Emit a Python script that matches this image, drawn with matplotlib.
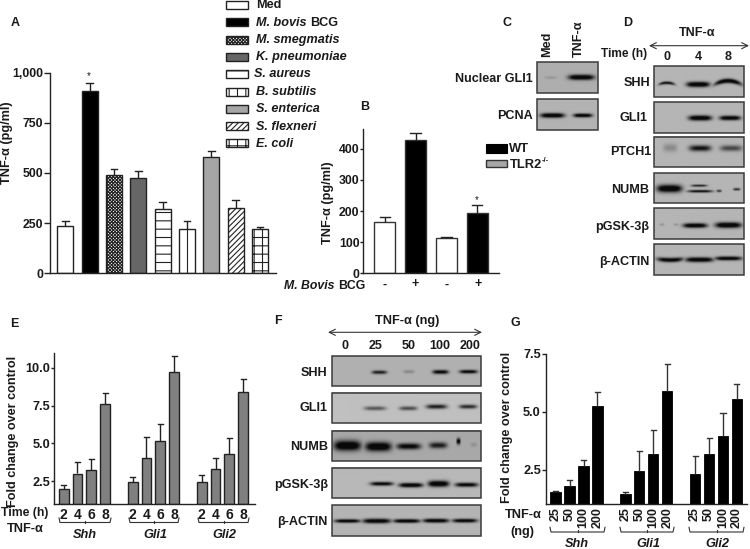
import numpy as np
import matplotlib
matplotlib.use("Agg")
import matplotlib.pyplot as plt
from matplotlib.patches import Rectangle

plt.rcParams['font.family'] = ['Liberation Sans', 'DejaVu Sans']
plt.rcParams['font.weight'] = 'bold'
plt.rcParams['hatch.linewidth'] = 0.8

W, H = 750, 549
TXT = '#1a1a1a'

# panel A
a_names = ['Med', 'M. bovis', 'M. smegmatis', 'K. pneumoniae', 'S. aureus',
           'B. subtilis', 'S. enterica', 'S. flexneri', 'E. coli']
a_vals = [237, 910, 488, 473, 320, 219, 580, 324, 219]
a_tops = [262, 947, 520, 508, 357, 259, 611, 364, 231]
a_colors = ['white', 'black', 'white', '#666666', 'white', 'white', '#a6a6a6', 'white', 'white']
a_hatch = [None, None, 'xxxxxxxxxx', None, '--', '||', None, '//////', '++']

# panel B
b_vals = [166, 427, 113, 195]
b_tops = [180, 452, 118, 218]
b_colors = ['white', 'black', 'white', 'black']
b_signs = ['-', '+', '-', '+']

# panel E
e_vals = [1.97, 3.0, 3.26, 7.57, 2.43, 4.05, 5.18, 9.75, 2.43, 3.33, 4.32, 8.41]
e_tops = [2.27, 3.79, 3.99, 8.34, 2.78, 5.42, 6.3, 10.76, 2.87, 4.03, 5.37, 9.24]
e_times = ['2', '4', '6', '8'] * 3

# panel G
g_vals = [1.55, 1.77, 2.67, 5.23, 1.43, 2.42, 3.17, 5.91, 2.33, 3.17, 3.97, 5.57]
g_tops = [1.57, 2.04, 2.91, 5.84, 1.54, 3.29, 4.23, 7.07, 3.09, 3.87, 4.96, 6.19]
g_doses = ['25', '50', '100', '200'] * 3

genes = ['Shh', 'Gli1', 'Gli2']

# blots: strength of each band, then where each band sits (x, width, y, half height, bend)
c_labels = ['Nuclear GLI1', 'PCNA']
c_levels = [[0.12, 1.0], [1.0, 0.95]]
c_bands = [[(551, 12, 77.3, 1.2, 0), (581.7, 26, 77, 2.6, 0)],
           [(552.7, 24, 115.3, 2.3, 0), (583.3, 19, 115.3, 1.9, 0)]]

d_labels = ['SHH', 'GLI1', 'PTCH1', 'NUMB', 'pGSK-3β', 'β-ACTIN']
d_levels = [[0.75, 1.0, 0.95], [1.0, 0.95], [0.2, 0.75, 0.5],
            [1.0, 0.8, 0.7, 0.6, 0.65], [0.15, 0.15, 0.95, 1.0], [0.9, 0.95, 0.9]]
d_bands = [[(666.7, 16, 82.7, 1.5, 1.5), (698, 23, 84.3, 2.6, 0), (728, 27, 80.7, 2.2, 3.5)],
           [(700, 23, 118, 2.5, 0), (730, 21, 118, 2.2, 0)],
           [(670, 14, 148.3, 4, 0), (700, 22, 148.7, 3, 0), (731, 22, 148.7, 3, 0)],
           [(669.3, 25, 188.3, 3.8, 0), (700, 25, 191, 1.3, 0), (699, 16, 185.3, 1.1, 0),
            (719, 5, 190.7, 1.2, 0), (736.7, 7, 189, 1.2, 0)],
           [(661.7, 5, 224.7, 1.2, 0), (676, 5, 224.7, 1.2, 0), (695, 24, 225.7, 2.3, 0), (728.3, 26, 225.3, 2.8, 0)],
           [(670, 26, 260.3, 2.2, -1), (699.3, 28, 260, 2.4, 0), (728.3, 27, 258.7, 2, 0)]]
d_times = ['0', '4', '8']

f_labels = ['SHH', 'GLI1', 'NUMB', 'pGSK-3β', 'β-ACTIN']
f_levels = [[0.7, 0.2, 0.85, 0.85], [0.45, 0.5, 0.7, 0.65],
            [1.0, 1.0, 0.85, 0.7, 0.85, 0.12], [0.85, 0.95, 1.0, 0.85],
            [0.9, 0.95, 0.95, 0.95, 0.9]]
f_bands = [[(379.3, 15, 372.3, 1.8, 0), (409, 11, 371.7, 1.6, 0), (440.7, 16, 372, 2, 0), (468.7, 18, 371.7, 1.8, 0)],
           [(375, 22, 409, 2, 0), (408.3, 18, 409, 2, 0), (436.7, 21, 407.3, 2.2, 0), (468.3, 18, 407.3, 2, 0)],
           [(347.3, 27, 446, 5, 0), (378.3, 26, 447, 4.5, 0), (408.7, 24, 446.7, 3, 0),
            (438.3, 18, 445.7, 3, 0), (458.7, 4, 441.7, 3, 0), (474, 6, 445, 2, 0)],
           [(381.7, 23, 484.3, 1.9, 0), (411, 24, 485.7, 2.2, 0), (438.7, 21, 484.3, 3, 0), (466.7, 23, 485.3, 2.1, 0)],
           [(347.3, 26, 521, 1.8, 0), (376.7, 28, 521, 2.3, 0), (406.7, 27, 521, 1.9, 0),
            (436, 26, 520.7, 2, 0), (465, 25, 520.7, 1.9, 0)]]
f_doses = ['0', '25', '50', '100', '200']


def px_axes(x0, y0, x1, y1):
    ax = fig.add_axes([x0 / W, 1 - y1 / H, (x1 - x0) / W, (y1 - y0) / H])
    ax.patch.set_alpha(0)
    ax.spines['top'].set_visible(False)
    ax.spines['right'].set_visible(False)
    ax.spines['left'].set_linewidth(1.0)
    ax.spines['bottom'].set_linewidth(1.0)
    ax.spines['left'].set_color('#222222')
    ax.spines['bottom'].set_color('#222222')
    ax.set_xticks([])
    return ax


def err_bars(ax, x, vals, tops, cap, color='#222222'):
    for xi, v, t in zip(x, vals, tops):
        ax.plot([xi, xi], [v, t], color=color, lw=1.0, solid_capstyle='butt')
        ax.plot([xi - cap, xi + cap], [t, t], color=color, lw=1.0)


def blot(box, levels, bands, bg=0.71):
    x0, y0, x1, y1 = box
    xs = np.linspace(x0, x1, int((x1 - x0) * 2))
    ys = np.linspace(y0, y1, int((y1 - y0) * 2))
    xx, yy = np.meshgrid(xs, ys)
    dark = np.zeros_like(xx)
    for lev, (cx, w, cy, thick, bend) in zip(levels, bands):
        u = (xx - cx) / (w / 2)
        shape = np.exp(-np.abs(u) ** 4) * np.exp(-((yy - cy - bend * u ** 2) / thick) ** 2)
        dark = np.maximum(dark, lev * shape)
    img = bg * (1 - 0.95 * np.clip(dark * 1.3, 0, 1))
    over.imshow(img, extent=[x0, x1, y1, y0], cmap='gray', vmin=0, vmax=1,
                aspect='auto', interpolation='bilinear')
    over.add_patch(Rectangle((x0, y0), x1 - x0, y1 - y0, fill=False, ec='#3a3a3a', lw=1.1))


def bracket(x0, x1, y0, y1):
    xm = (x0 + x1) / 2
    over.plot([x0, x0 + 1, x1 - 1, x1], [y0, y1 - 1, y1 - 1, y0], color='#333333', lw=0.8)
    over.plot([xm, xm], [y1 - 3, y1 - 1], color='#333333', lw=0.8)


def label(x, y, s, size=9.1, ha='center', **kw):
    over.text(x, y, s, fontsize=size, ha=ha, va='center', color=TXT, **kw)


fig = plt.figure(figsize=(W / 100, H / 100), dpi=100)

# overlay in pixel coordinates for all the free text, blots and keys
over = fig.add_axes([0, 0, 1, 1])
over.axis('off')

# A
ax = px_axes(49.7, 72.7, 276, 273.3)
x = np.arange(len(a_vals))
ax.bar(x, a_vals, width=0.66, color=a_colors, edgecolor='#222222', linewidth=1.0)
for bar, h in zip(ax.patches, a_hatch):
    if h:
        bar.set_hatch(h)
err_bars(ax, x, a_vals, a_tops, 0.14)
ax.set_xlim(-0.64, 8.66)
ax.set_ylim(0, 1000)
ax.set_yticks([0, 250, 500, 750, 1000], ['0', '250', '500', '750', '1,000'])
ax.tick_params(axis='y', length=4, width=1.0, pad=0.5, labelsize=8.8, color='#222222', labelcolor=TXT)

# B
ax = px_axes(363.3, 129.3, 498.7, 273.3)
x = np.arange(len(b_vals))
ax.bar(x, b_vals, width=0.68, color=b_colors, edgecolor='#333333', linewidth=1.0)
err_bars(ax, x, b_vals, b_tops, 0.17)
ax.set_xlim(-0.7, 3.7)
ax.set_ylim(0, 463)
ax.set_yticks([0, 100, 200, 300, 400])
ax.tick_params(axis='y', length=2.2, width=1.0, pad=0.5, labelsize=8.8, color='#222222', labelcolor=TXT)

# E
ax = px_axes(54.3, 352.7, 254.7, 503.7)
x = np.array([g * 5 + i for g in range(3) for i in range(4)])
ax.bar(x, np.array(e_vals) - 1, bottom=1, width=0.72, color='#808080', edgecolor='#222222', linewidth=1.0)
err_bars(ax, x, e_vals, e_tops, 0.18)
ax.set_xlim(-0.68, 13.84)
ax.set_ylim(1, 11)
ax.set_yticks([2.5, 5, 7.5, 10], ['2.5', '5.0', '7.5', '10.0'])
ax.tick_params(axis='y', length=2.4, width=1.0, pad=0.7, labelsize=9.2, color='#222222', labelcolor=TXT)
for xi, t in zip(x, e_times):
    ax.annotate(t, (xi, 0), xycoords=('data', 'axes fraction'), xytext=(0, -3), textcoords='offset points',
                ha='center', va='top', fontsize=10, color=TXT)

# G
ax = px_axes(546, 354, 746.7, 504.3)
ax.bar(x, np.array(g_vals) - 1, bottom=1, width=0.74, color='black', edgecolor='black', linewidth=0.6)
err_bars(ax, x, g_vals, g_tops, 0.18, color='#333333')
ax.set_xlim(-0.69, 13.7)
ax.set_ylim(1, 7.5)
ax.set_yticks([2.5, 5, 7.5], ['2.5', '5.0', '7.5'])
ax.tick_params(axis='y', length=3, width=1.0, pad=0.7, labelsize=9.2, color='#222222', labelcolor=TXT)
for xi, t in zip(x, g_doses):
    ax.annotate(t, (xi, 0), xycoords=('data', 'axes fraction'), xytext=(0, -2), textcoords='offset points',
                ha='center', va='top', rotation=90, fontsize=9, color=TXT)

# A key
key_y = [4.7, 22.3, 39.7, 56.7, 74, 92, 108.7, 126.3, 143.3]
for i, yy in enumerate(key_y):
    over.add_patch(Rectangle((226, yy - 4), 22, 8, fc=a_colors[i], ec='#222222', lw=1.0, hatch=a_hatch[i]))
    label(256 if i != 4 else 254, yy + 0.3, a_names[i], ha='left', style='normal' if i == 0 else 'italic')
label(310, 22.6, 'BCG', ha='left')

# y labels
over.text(7, 143, 'TNF-α (pg/ml)', fontsize=9.2, rotation=90, ha='center', va='center', color=TXT)
over.text(328, 203, 'TNF-α (pg/ml)', fontsize=9.2, rotation=90, ha='center', va='center', color=TXT)
over.text(13.3, 431, 'Fold change over control', fontsize=9.1, rotation=90, ha='center', va='center', color=TXT)
over.text(507, 427, 'Fold change over control', fontsize=9.1, rotation=90, ha='center', va='center', color=TXT)

# letters
for s, lx, ly in [('A', 15, 22.7), ('B', 365, 106.7), ('C', 506.7, 22.7), ('D', 628, 22.7),
                  ('E', 14, 324), ('F', 277.7, 320.7), ('G', 515.7, 322.7)]:
    label(lx, ly, s, size=9)

# asterisks
label(89, 76, '*', size=7, fontweight='normal')
label(477, 200, '*', size=7, fontweight='normal')

# B lower labels and key
for xs, s in zip([384.7, 415.3, 447, 477.7], b_signs):
    label(xs, 284.5, s, size=9)
label(284, 286, 'M. Bovis', ha='left', style='italic', size=8.8)
label(338, 286, 'BCG', ha='left', size=8.8)
over.add_patch(Rectangle((485.7, 144), 21, 8.7, fc='black', ec='black', lw=0.8))
over.add_patch(Rectangle((485.7, 159.5), 21, 7.2, fc='#a6a6a6', ec='#333333', lw=1.0))
label(509, 149.5, 'WT', ha='left', size=9.3)
label(510, 164.5, 'TLR2', ha='left', size=9.3)
label(542, 160.5, '-/-', ha='left', size=5.5)

# C
blot((537.3, 61.7, 598.3, 92.7), c_levels[0], c_bands[0], 0.68)
blot((537.3, 99, 598.3, 129.7), c_levels[1], c_bands[1], 0.7)
label(532.7, 78.7, c_labels[0], ha='right')
label(533, 116, c_labels[1], ha='right')
over.text(547, 57.3, 'Med', rotation=90, fontsize=9.1, ha='center', va='bottom', color=TXT)
over.text(579, 57.3, 'TNF-α', rotation=90, fontsize=9.1, ha='center', va='bottom', color=TXT)

# D
d_lanes = [666.7, 698.3, 728.3]
d_rows = [(66, 96.7), (102.3, 132.7), (136.7, 167.3), (172.7, 202.7), (208.3, 239), (244.3, 275.3)]
d_text_x = [650.7, 647, 651, 649, 649, 650]
d_text_y = [82.7, 117.7, 152, 190, 226.7, 262.3]
for i, (y0, y1) in enumerate(d_rows):
    blot((654, y0, 743.7, y1), d_levels[i], d_bands[i])
    label(d_text_x[i], d_text_y[i], d_labels[i], ha='right')
label(697.3, 33.3, 'TNF-α')
label(600.7, 54, 'Time (h)', ha='left', size=8.6)
for xs, s in zip(d_lanes, d_times):
    label(xs, 56.7, s, size=9)
over.annotate('', xy=(649, 45.7), xytext=(749, 45.7),
              arrowprops=dict(arrowstyle='<->', color='#333333', lw=0.8, mutation_scale=11, shrinkA=0, shrinkB=0))

# F
f_rows = [(356, 386), (393, 423.3), (430.7, 461), (467.7, 498.3), (505, 536)]
f_bgs = [0.69, 0.75, 0.66, 0.72, 0.71]
f_text_y = [372.7, 408.3, 446.7, 485, 522.3]
for i, (y0, y1) in enumerate(f_rows):
    blot((332, y0, 481, y1), f_levels[i], f_bands[i], f_bgs[i])
    label(327.7, f_text_y[i], f_labels[i], ha='right')
label(406.7, 321, 'TNF-α (ng)', size=9.2)
for xs, s in zip([345, 375.7, 409, 440, 470], f_doses):
    label(xs, 345.7, s, size=9)
over.annotate('', xy=(328, 332.3), xytext=(482, 332.3),
              arrowprops=dict(arrowstyle='<->', color='#333333', lw=0.8, mutation_scale=11, shrinkA=0, shrinkB=0))

# E lower labels
label(1, 513.3, 'Time (h)', ha='left', size=8.8)
label(7, 528.7, 'TNF-α', ha='left', size=9.2)
for (bx0, bx1), xs, s in zip([(59, 111), (129, 179), (198, 249)], [85, 155, 224], genes):
    bracket(bx0, bx1, 518, 523.5)
    label(xs, 535, s, style='italic', size=9.2)

# G lower labels
label(505, 515, 'TNF-α', ha='left', size=9.2)
label(510.7, 531.7, '(ng)', ha='left', size=9.2)
for (bx0, bx1), xs, s in zip([(550, 605), (620, 674), (689, 744)], [576.7, 648, 717], genes):
    bracket(bx0, bx1, 527.3, 533)
    label(xs, 544, s, style='italic', size=9.2)

over.set_xlim(0, W)
over.set_ylim(H, 0)

fig.savefig('out.png', dpi=100)
